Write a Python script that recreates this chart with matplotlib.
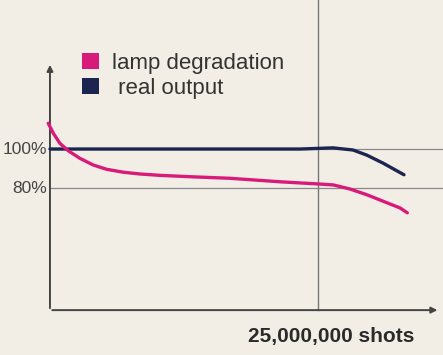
import matplotlib
matplotlib.use("Agg")
import matplotlib.pyplot as plt
from matplotlib.patches import Patch

# Data: x in millions of shots, y in % output
deg_x = [-0.16, 0.31, 0.93, 1.71, 2.80, 4.04, 5.29, 6.84, 8.40, 10.26, 13.06, 16.79,
         21.46, 25.0, 26.43, 27.98, 29.54, 31.09, 32.65, 33.33]
deg_y = [113.2, 108.1, 102.9, 99.1, 95.2, 91.8, 89.6, 88.1, 87.2, 86.5, 85.8, 85.0,
         83.2, 82.1, 81.6, 79.5, 76.6, 73.2, 69.8, 67.3]
out_x = [0.0, 10.0, 20.0, 23.32, 26.40, 28.26, 29.54, 31.09, 33.02]
out_y = [100.0, 100.0, 100.0, 100.0, 100.6, 99.5, 96.9, 92.7, 86.8]
ref_levels = [100, 80]
ref_labels = ["100%", "80%"]
marker_x = 25.0
x_label = "25,000,000 shots"
series_names = ["lamp degradation", " real output"]

bg = "#f2eee6"
pink = "#d81b7a"
navy = "#1c2550"

fig = plt.figure(figsize=(4.43, 3.55), dpi=100, facecolor=bg)
ax = fig.add_axes([0, 0, 1, 1])
ax.set_facecolor(bg)
ax.set_xlim(-4.66, 36.66)
ax.set_ylim(-5.6, 176.4)
ax.axis("off")

y0 = 17.4
# reference lines
for lv, lb in zip(ref_levels, ref_labels):
    ax.plot([0, 36.66], [lv, lv], color="#8a8a8a", lw=0.9, zorder=1, clip_on=False)
    ax.text(-0.3, lv, lb, ha="right", va="center", fontsize=12.5,
            family="Liberation Sans", color="#444444")
ax.plot([marker_x, marker_x], [y0, 176.4], color="#777777", lw=1.0, zorder=1)

# axes with arrows
ax.annotate("", xy=(0, 144.6), xytext=(0, y0 - 0.4),
            arrowprops=dict(arrowstyle="-|>", color="#444444", lw=1.4, mutation_scale=9))
ax.annotate("", xy=(36.4, y0), xytext=(-0.05, y0),
            arrowprops=dict(arrowstyle="-|>", color="#444444", lw=1.4, mutation_scale=9))

ax.plot(out_x, out_y, color=navy, lw=2.4, zorder=3, solid_capstyle="round",
        solid_joinstyle="round")
ax.plot(deg_x, deg_y, color=pink, lw=2.4, zorder=4, solid_capstyle="round",
        solid_joinstyle="round")

handles = [Patch(facecolor=pink, edgecolor="none"), Patch(facecolor=navy, edgecolor="none")]
leg = fig.legend(handles, series_names, loc="upper left", bbox_to_anchor=(62 / 443, 1 - 33 / 355),
                 frameon=False, handlelength=0.75, handleheight=0.75, handletextpad=0.6,
                 labelspacing=0.18, prop={"family": "Liberation Sans", "size": 16})
for t in leg.get_texts():
    t.set_color("#333333")

ax.text(18.5, 4.0, x_label, ha="left", va="center", fontsize=15,
        family="Liberation Sans", fontweight="bold", color="#2a2a2a")

fig.savefig("out.png", dpi=100, facecolor=bg)
